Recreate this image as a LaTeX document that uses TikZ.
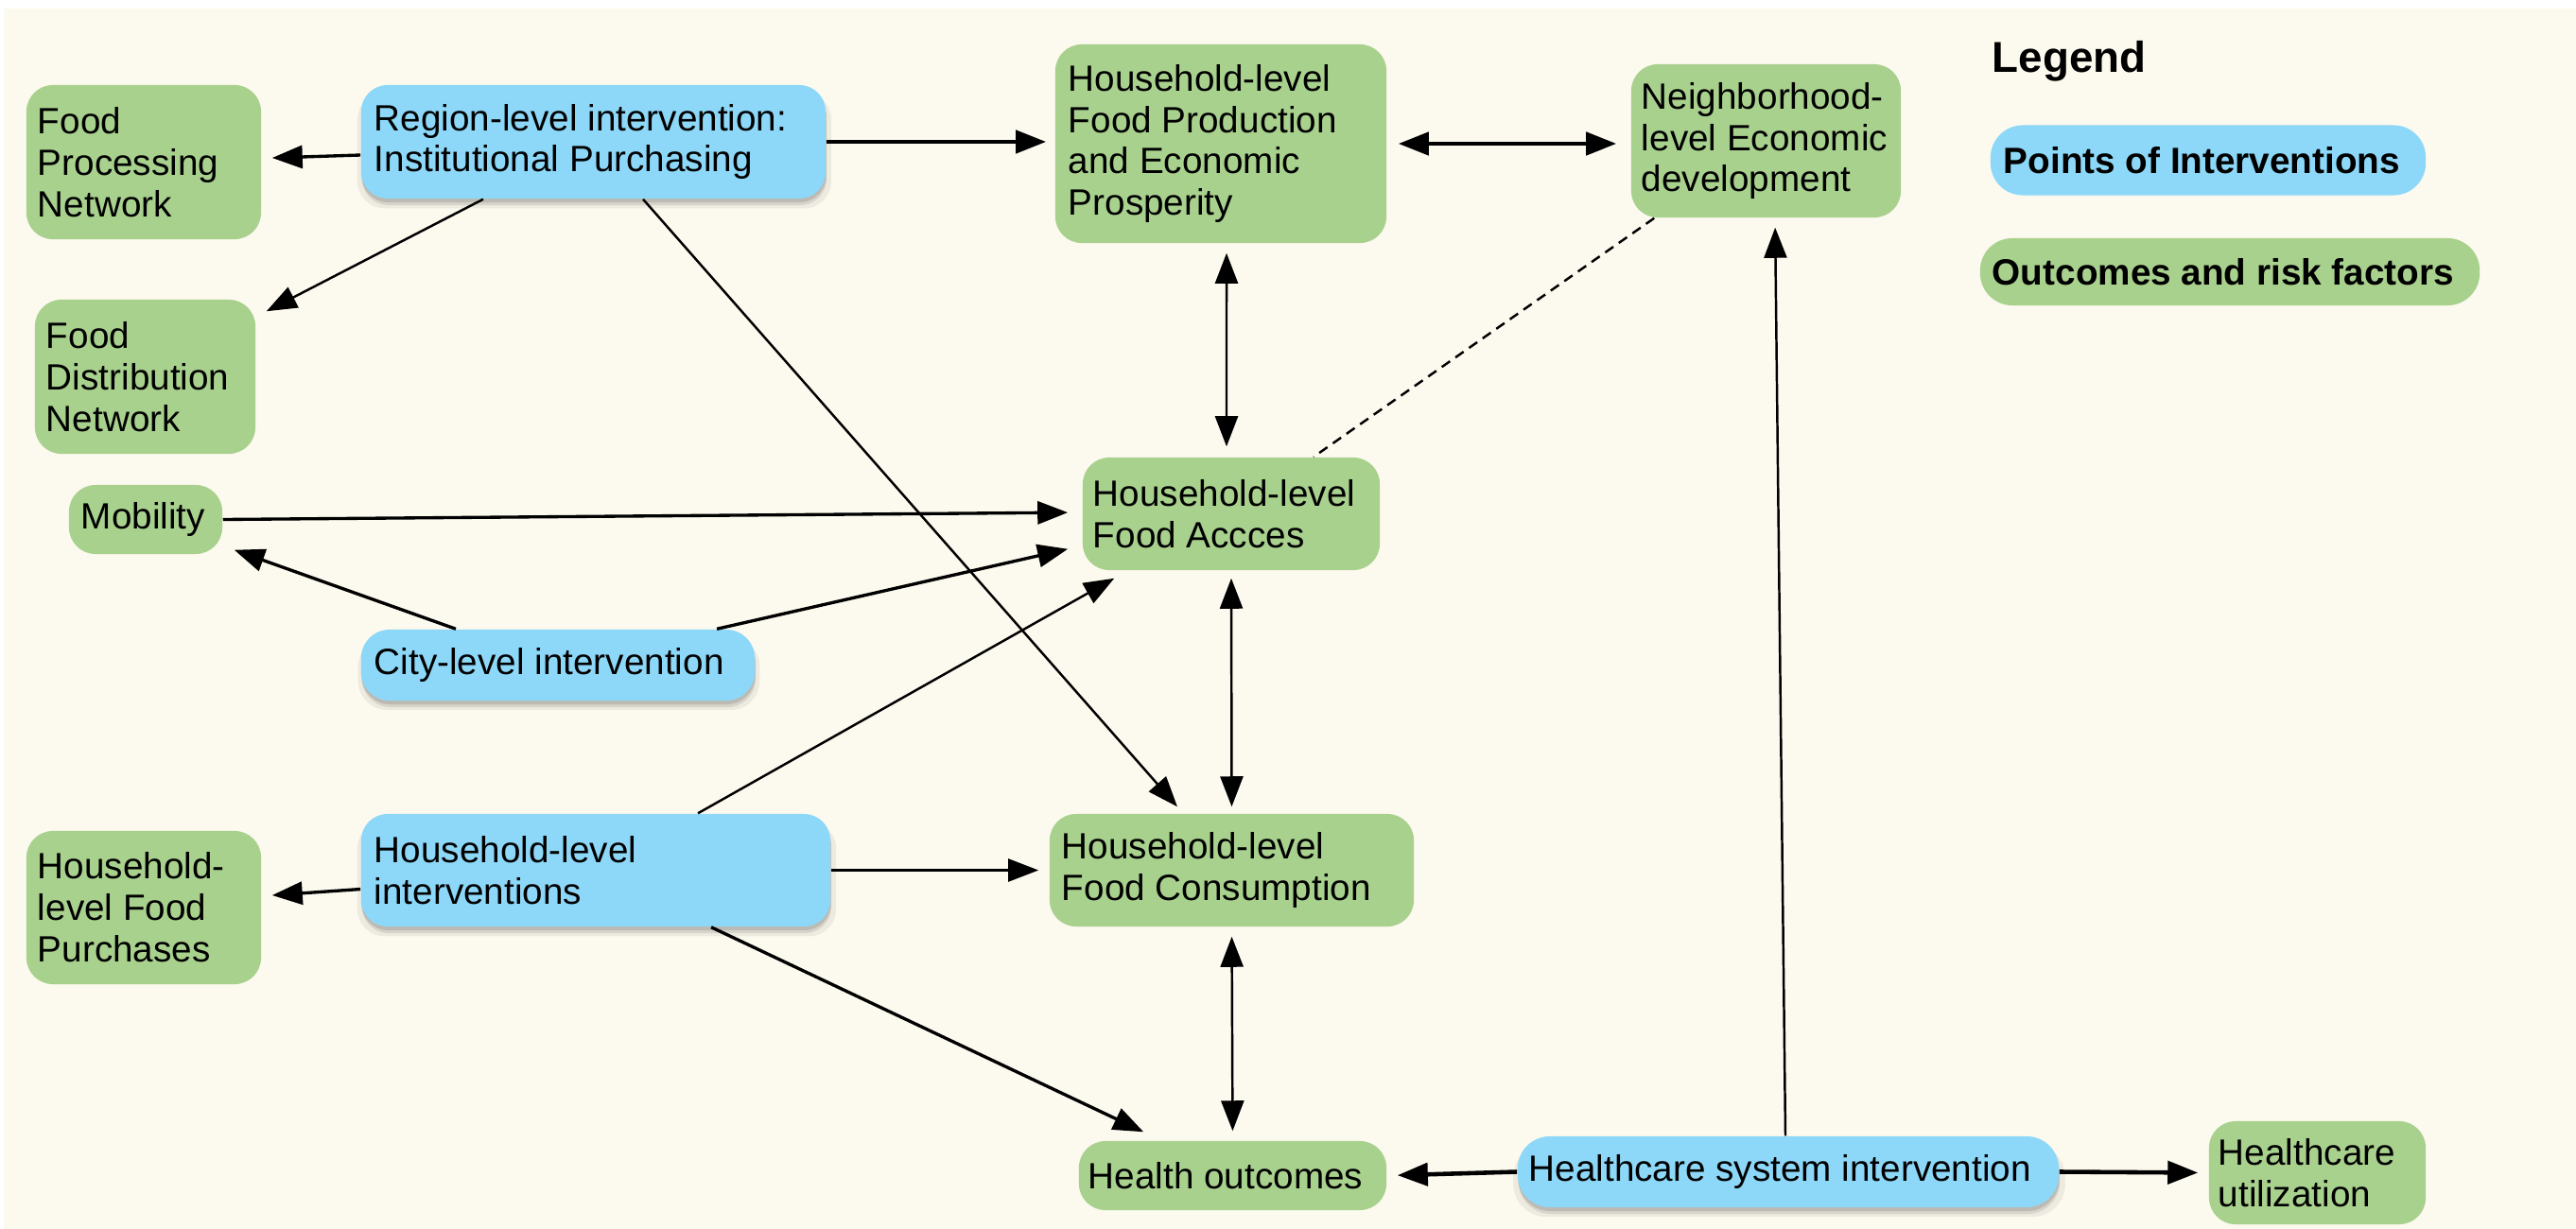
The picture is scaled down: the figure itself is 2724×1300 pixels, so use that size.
\documentclass[tikz,border=0pt]{standalone}
\usepackage{fontspec}
\setmainfont{Liberation Sans}
\usetikzlibrary{arrows.meta,shadows}
\definecolor{bgc}{HTML}{FCF9EE}
\definecolor{gfill}{HTML}{A9D18E}
\definecolor{bfill}{HTML}{8DD8F8}
\begin{document}
\begin{tikzpicture}[x=0.01cm,y=-0.01cm,
  box/.style={rounded corners=0.28cm, inner sep=0pt, draw=none},
  gbox/.style={box, fill=gfill},
  bbox/.style={box, fill=bfill,
    drop shadow={shadow xshift=0.01cm, shadow yshift=-0.09cm, opacity=0.06, fill=black, shadow scale=1.02},
    drop shadow={shadow xshift=0.01cm, shadow yshift=-0.07cm, opacity=0.09, fill=black},
    drop shadow={shadow xshift=0.005cm, shadow yshift=-0.04cm, opacity=0.12, fill=black}},
  txt/.style={anchor=west, align=left, inner sep=0pt, font=\fontsize{11}{12.5}\selectfont, text=black},
  tip/.tip={Triangle[length=0.32cm,width=0.24cm]},
  arr/.style={-tip, line width=0.7pt},
  darr/.style={tip-tip, line width=0.7pt},
  thickarr/.style={-tip, line width=1.3pt},
  medarr/.style={-tip, line width=0.95pt}
]
\useasboundingbox (0,0) rectangle (2724,1300);
\fill[white] (0,0) rectangle (2724,1300);
\fill[bgc] (4,9) rectangle (2724,1300);

% boxes
\node[gbox, minimum width=2.48cm, minimum height=1.63cm] (fpn) at (152,171.5) {};
\node[txt] (fpn-t) at ([xshift=0.12cm]fpn.west) {Food\\Processing\\Network};

\node[bbox, minimum width=4.91cm, minimum height=1.20cm] (region) at (627.5,150) {};
\node[txt] (region-t) at ([xshift=0.14cm]region.west) {Region-level intervention:\\Institutional Purchasing};

\node[gbox, minimum width=2.33cm, minimum height=1.63cm] (fdn) at (153.5,398.5) {};
\node[txt] (fdn-t) at ([xshift=0.12cm]fdn.west) {Food\\Distribution\\Network};

\node[gbox, minimum width=3.50cm, minimum height=2.10cm] (hhfp) at (1291,152) {};
\node[txt] (hhfp-t) at ([xshift=0.14cm]hhfp.west) {Household-level\\Food Production\\and Economic\\Prosperity};

\node[gbox, minimum width=2.85cm, minimum height=1.62cm] (neigh) at (1867.5,149) {};
\node[txt] (neigh-t) at ([xshift=0.11cm]neigh.west) {Neighborhood-\\level Economic\\development};

\node[gbox, minimum width=1.62cm, minimum height=0.73cm] (mobility) at (154,549.5) {};
\node[txt] (mobility-t) at ([xshift=0.13cm]mobility.west) {Mobility};

\node[gbox, minimum width=3.14cm, minimum height=1.19cm] (access) at (1302,543.5) {};
\node[txt] (access-t) at ([xshift=0.11cm]access.west) {Household-level\\Food Accces};

\node[bbox, rounded corners=0.3cm, minimum width=4.16cm, minimum height=0.75cm] (city) at (590,703.5) {};
\node[txt] (city-t) at ([xshift=0.14cm]city.west) {City-level intervention};

\node[bbox, minimum width=4.96cm, minimum height=1.19cm] (hhint) at (630,920.5) {};
\node[txt] (hhint-t) at ([xshift=0.14cm]hhint.west) {Household-level\\interventions};

\node[gbox, minimum width=2.48cm, minimum height=1.62cm] (hhfpur) at (152,960) {};
\node[txt] (hhfpur-t) at ([xshift=0.12cm]hhfpur.west) {Household-\\level Food\\Purchases};

\node[gbox, minimum width=3.85cm, minimum height=1.19cm] (cons) at (1302.5,920.5) {};
\node[txt] (cons-t) at ([xshift=0.13cm]cons.west) {Household-level\\Food Consumption};

\node[gbox, rounded corners=0.28cm, minimum width=3.25cm, minimum height=0.73cm] (health) at (1303.5,1243.5) {};
\node[txt] (health-t) at ([xshift=0.10cm]health.west) {Health outcomes};

\node[bbox, rounded corners=0.34cm, minimum width=5.72cm, minimum height=0.75cm] (hs) at (1891,1239.5) {};
\node[txt] (hs-t) at ([xshift=0.12cm]hs.west) {Healthcare system intervention};

\node[gbox, minimum width=2.29cm, minimum height=1.09cm] (util) at (2450.5,1240.5) {};
\node[txt] (util-t) at ([xshift=0.10cm]util.west) {Healthcare\\utilization};

% legend
\node[anchor=base west, inner sep=0pt, font=\fontsize{13}{15}\selectfont\bfseries] (legend) at (2106,77) {Legend};
\node[box, fill=bfill, rounded corners=0.34cm, minimum width=4.60cm, minimum height=0.74cm] (leg1) at (2335,169.5) {};
\node[txt, font=\fontsize{11}{13}\selectfont\bfseries] (leg1-t) at ([xshift=0.14cm]leg1.west) {Points of Interventions};
\node[gbox, rounded corners=0.34cm, minimum width=5.28cm, minimum height=0.71cm] (leg2) at (2358,287.5) {};
\node[txt, font=\fontsize{11}{13}\selectfont\bfseries] (leg2-t) at ([xshift=0.13cm]leg2.west) {Outcomes and risk factors};

% connectors
\draw[medarr] ([yshift=-0.14cm]region.west) -- ([xshift=0.11cm,yshift=0.045cm]fpn.east);
\draw[arr] ([xshift=-1.165cm]region.south) -- ([xshift=0.11cm,yshift=-0.13cm]fdn.north east);
\draw[arr] ([xshift=0.525cm]region.south) -- ([xshift=-0.575cm,yshift=0.07cm]cons.north);
\draw[thickarr, shorten >=0.09cm] (region.east) -- (region.east -| hhfp.west);
\draw[tip-tip, line width=1.3pt, shorten <=0.12cm, shorten >=0.15cm] (hhfp.east) -- (hhfp.east -| neigh.west);
\draw[darr, shorten <=0.10cm, shorten >=0.11cm] ([xshift=0.06cm]hhfp.south) -- ([xshift=-0.05cm]access.north);
\draw[line width=0.7pt, dash pattern=on 3pt off 2pt] ([xshift=0.25cm]neigh.south west) -- ([xshift=0.87cm]access.north);
\draw[medarr, shorten >=0.15cm] (mobility.east) -- ([yshift=0.015cm]access.west);
\draw[medarr] ([xshift=-1.08cm]city.north) -- ([xshift=0.12cm,yshift=0.05cm]mobility.south east);
\draw[medarr] ([xshift=1.68cm]city.north) -- ([xshift=-0.15cm,yshift=0.23cm]access.south west);
\draw[arr] ([xshift=1.08cm]hhint.north) -- ([xshift=0.34cm,yshift=-0.08cm]access.south west);
\draw[medarr] ([yshift=-0.2cm]hhint.west) -- ([xshift=0.11cm,yshift=0.13cm]hhfpur.east);
\draw[arr, shorten >=0.11cm] (hhint.east) -- (cons.west);
\draw[medarr] ([xshift=1.22cm]hhint.south) -- ([xshift=0.69cm,yshift=0.09cm]health.north west);
\draw[darr, shorten <=0.10cm, shorten >=0.10cm] (cons.south) -- (health.north);
\draw[darr, shorten <=0.08cm, shorten >=0.07cm] (access.south) -- (cons.north);
\draw[thickarr, shorten >=0.11cm] (hs.west) -- (health.east);
\draw[thickarr, shorten >=0.11cm] (hs.east) -- (util.west);
\draw[arr, shorten >=0.10cm] ([xshift=-0.03cm]hs.north) -- ([xshift=0.095cm]neigh.south);
\end{tikzpicture}
\end{document}
